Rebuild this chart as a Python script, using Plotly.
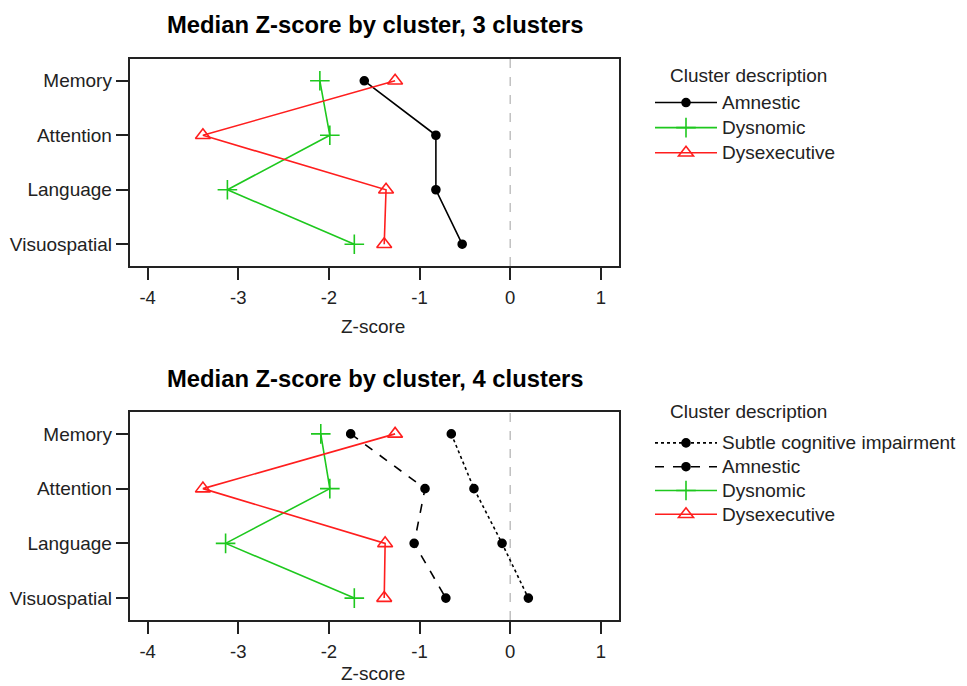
import plotly.graph_objects as go

domains = ["Memory", "Attention", "Language", "Visuospatial"]
x_ticks = [-4, -3, -2, -1, 0, 1]
x_tick_labels = ["-4", "-3", "-2", "-1", "0", "1"]

# 3-cluster solution
c3_amnestic = [-1.61, -0.82, -0.82, -0.53]
c3_dysnomic = [-2.10, -1.99, -3.12, -1.72]
c3_dysexecutive = [-1.27, -3.39, -1.37, -1.39]

# 4-cluster solution
c4_subtle = [-0.65, -0.40, -0.09, 0.20]
c4_amnestic = [-1.76, -0.94, -1.06, -0.71]
c4_dysnomic = [-2.09, -1.99, -3.14, -1.72]
c4_dysexecutive = [-1.27, -3.39, -1.38, -1.39]

FONT = "Liberation Sans, Arial, Helvetica, sans-serif"
W, H, OFF = 959, 678, 8  # page has an 8px body margin


def px(X):
    return (X - OFF) / W


def py(Y):
    return 1 - (Y - OFF) / H


fig = go.Figure()


def add(x, name, color, symbol, size, dash, xa, ya, legend):
    fig.add_trace(go.Scatter(
        x=x, y=domains, mode="lines+markers",
        name='<span style="font-size:19px">%s</span>' % name,
        line=dict(color=color, width=1.6, dash=dash),
        marker=dict(symbol=symbol, size=size, color=color,
                    line=dict(color=color, width=1.6)),
        xaxis=xa, yaxis=ya, legend=legend))


GREEN, RED = "#1ec81e", "#ff1e1e"
add(c3_amnestic, "Amnestic", "black", "circle", 8, "solid", "x", "y", "legend")
add(c3_dysnomic, "Dysnomic", GREEN, "cross-thin-open", 14, "solid", "x", "y", "legend")
add(c3_dysexecutive, "Dysexecutive", RED, "triangle-up-open", 13, "solid", "x", "y", "legend")

add(c4_subtle, "Subtle cognitive impairment", "black", "circle", 8, "dot", "x2", "y2", "legend2")
add(c4_amnestic, "Amnestic", "black", "circle", 8, "dash", "x2", "y2", "legend2")
add(c4_dysnomic, "Dysnomic", GREEN, "cross-thin-open", 14, "solid", "x2", "y2", "legend2")
add(c4_dysexecutive, "Dysexecutive", RED, "triangle-up-open", 13, "solid", "x2", "y2", "legend2")

xd = [px(129.5), px(619)]
y1d = [py(266), py(59)]
y2d = [py(620), py(412)]

xcommon = dict(range=[-4.2, 1.2], tickvals=x_ticks, ticktext=x_tick_labels,
               ticks="outside", ticklen=12,
               tickcolor="#222", tickwidth=1.5, showgrid=False, zeroline=False,
               showline=True, linecolor="#222", linewidth=1.5, mirror=True,
               ticklabelstandoff=2,
               tickfont=dict(size=18.5, color="#222", family=FONT))
ycommon = dict(type="category", categoryorder="array",
               categoryarray=domains[::-1], range=[-0.4, 3.4],
               ticks="outside", ticklen=12, tickcolor="#222", tickwidth=1.5,
               showgrid=False, zeroline=False, showline=True, linecolor="#222",
               linewidth=1.5, mirror=True, ticklabelstandoff=0,
               tickfont=dict(size=19, color="#222", family=FONT))

legcommon = dict(xanchor="left", yanchor="top",
                 bgcolor="rgba(0,0,0,0)", tracegroupgap=0, itemwidth=62)

ann = [
    dict(text="<b>Median Z-score by cluster, 3 clusters</b>", x=px(375), y=py(25),
         font=dict(size=23.8, color="black")),
    dict(text="<b>Median Z-score by cluster, 4 clusters</b>", x=px(375), y=py(378),
         font=dict(size=23.8, color="black")),
    dict(text="Z-score", x=px(373), y=py(326), font=dict(size=19, color="#222")),
    dict(text="Z-score", x=px(373), y=py(673), font=dict(size=19, color="#222")),
    dict(text="Cluster description", x=px(668), y=py(75), xanchor="left",
         font=dict(size=19, color="#222")),
    dict(text="Cluster description", x=px(668), y=py(411), xanchor="left",
         font=dict(size=19, color="#222")),
]
for a in ann:
    a.setdefault("xanchor", "center")
    a.update(xref="paper", yref="paper", showarrow=False, yanchor="middle")

fig.update_layout(
    width=W, height=H, margin=dict(l=0, r=0, t=0, b=0),
    paper_bgcolor="white", plot_bgcolor="white",
    font=dict(family=FONT, color="#222"),
    xaxis=dict(domain=xd, anchor="y", **xcommon),
    yaxis=dict(domain=y1d, anchor="x", **ycommon),
    xaxis2=dict(domain=xd, anchor="y2", **xcommon),
    yaxis2=dict(domain=y2d, anchor="x2", **ycommon),
    legend=dict(x=px(650), y=py(85), font=dict(size=17, color="#222"), **legcommon),
    legend2=dict(x=px(650), y=py(426), font=dict(size=16, color="#222"), **legcommon),
    annotations=ann,
    shapes=[
        dict(type="line", xref="x", yref="y domain", x0=0, x1=0, y0=0, y1=1,
             line=dict(color="#c0c0c0", width=1.5, dash="dash"), layer="below"),
        dict(type="line", xref="x2", yref="y2 domain", x0=0, x1=0, y0=0, y1=1,
             line=dict(color="#c0c0c0", width=1.5, dash="dash"), layer="below"),
    ],
)

fig.write_html("out.html")
